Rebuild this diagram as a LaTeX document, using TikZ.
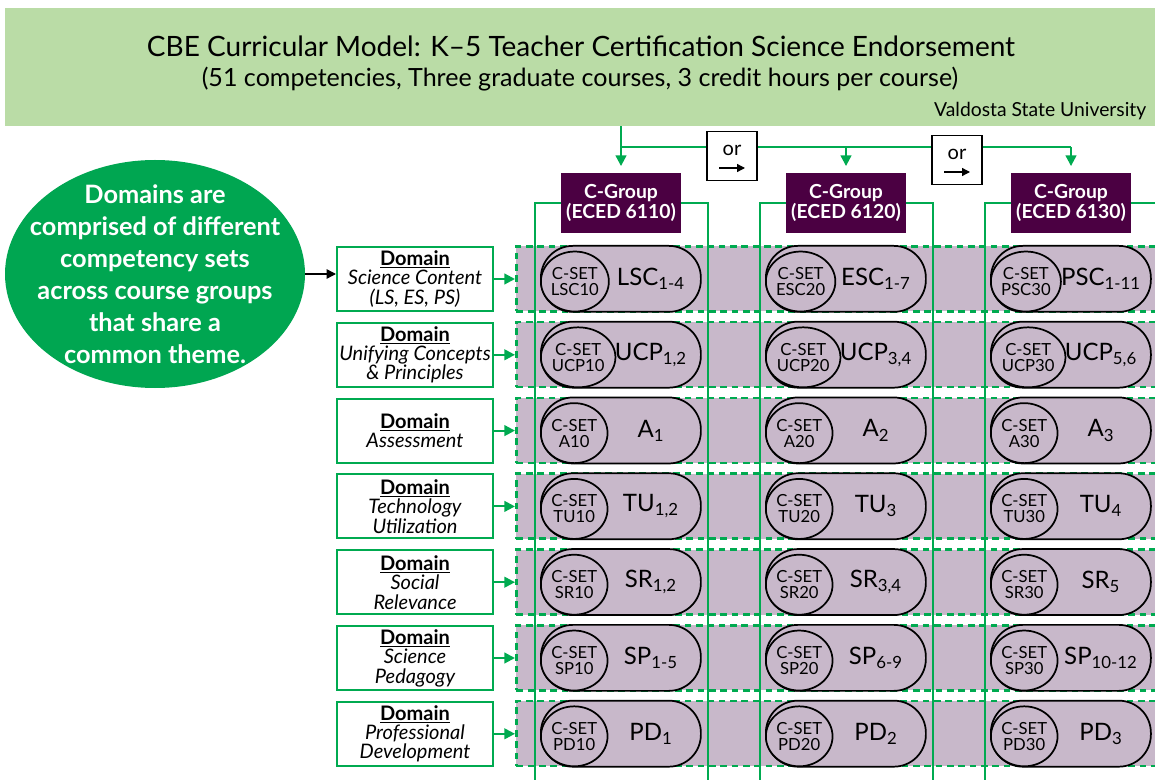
\documentclass[tikz,border=0pt]{standalone}
\usepackage{fontspec}
\setmainfont{Lato}
\usetikzlibrary{arrows.meta,shapes.geometric,positioning}

\definecolor{headgreen}{RGB}{186,220,166}
\definecolor{rulegreen}{RGB}{0,170,80}
\definecolor{blobgreen}{RGB}{0,166,81}
\definecolor{grape}{RGB}{75,0,66}
\definecolor{mauve}{RGB}{200,184,202}

\newcommand{\sub}[1]{\textsubscript{#1}}
\newcommand{\fs}[2]{\fontsize{#1}{#2}\selectfont}

\tikzset{
	gline/.style={draw=rulegreen, line width=1.6pt},
	colline/.style={draw=rulegreen, line width=2.2pt},
	band/.style={draw=rulegreen, dash pattern=on 5pt off 3.5pt, line width=2pt, fill=mauve,
		anchor=north west, minimum width=530pt, minimum height=48.75pt, inner sep=0},
	groupbox/.style={fill=grape, text=white, font=\fs{14.5}{15}\bfseries, align=center,
		minimum width=90pt, minimum height=45pt, inner sep=0},
	orbox/.style={draw=black, line width=0.8pt, fill=white, minimum width=37.5pt, minimum height=36.5pt},
	domainbox/.style={draw=rulegreen, line width=1.5pt, fill=white, anchor=north west,
		minimum width=117pt, minimum height=48pt, inner sep=0, align=center, font=\fs{15}{14.6}\itshape},
	pill/.style={draw=black, line width=1.3pt, fill=mauve, rounded corners=24pt, anchor=north west,
		minimum width=120pt, minimum height=49.5pt},
	setdisc/.style={ellipse, draw=black, line width=1.3pt, fill=mauve, minimum width=50pt,
		minimum height=45pt, inner sep=0, align=center, font=\fs{12.5}{12}, anchor=west},
	pilltext/.style={font=\fs{18}{20}},
}

\begin{document}
\begin{tikzpicture}[x=0.75pt,y=-0.75pt,>={Triangle[length=8pt,width=8pt]}]
	\clip (0,0) rectangle (1155,780);

	% title band
	\node[fill=headgreen, minimum width=862.5pt, minimum height=88.5pt, inner sep=0] (header) at (580,67) {};
	\node[font=\fs{21}{24}] (title) at (581,46) {CBE Curricular Model: K--5 Teacher Certification Science Endorsement};
	\node[font=\fs{18.8}{21}] (subtitle) at (580,79) {(51 competencies, Three graduate courses, 3 credit hours per course)};
	\node[font=\fs{14.5}{16}, anchor=east] (vsu) at (1151,111) {Valdosta State University};

	% note
	\node[ellipse, fill=blobgreen, minimum width=225pt, minimum height=171pt] (blob) at (155,274) {};
	\node[text=white, font=\fs{19}{24}\bfseries, align=center] (blob-txt) at (blob.center)
		{Domains are\\comprised of different\\competency sets\\across course groups\\that share a\\common theme.};

	% domains and competency sets
	\foreach \r/\dom/\sa/\sb/\sc/\la/\lb/\lc in {
		0/{Science Content\\(LS, ES, PS)}/LSC10/ESC20/PSC30/{LSC\sub{1-4}}/{ESC\sub{1-7}}/{PSC\sub{1-11}},
		1/{Unifying Concepts\\\& Principles}/UCP10/UCP20/UCP30/{UCP\sub{1,2}}/{UCP\sub{3,4}}/{UCP\sub{5,6}},
		2/{Assessment}/A10/A20/A30/{A\sub{1}}/{A\sub{2}}/{A\sub{3}},
		3/{Technology\\Utilization}/TU10/TU20/TU30/{TU\sub{1,2}}/{TU\sub{3}}/{TU\sub{4}},
		4/{Social\\Relevance}/SR10/SR20/SR30/{SR\sub{1,2}}/{SR\sub{3,4}}/{SR\sub{5}},
		5/{Science\\Pedagogy}/SP10/SP20/SP30/{SP\sub{1-5}}/{SP\sub{6-9}}/{SP\sub{10-12}},
		6/{Professional\\Development}/PD10/PD20/PD30/{PD\sub{1}}/{PD\sub{2}}/{PD\sub{3}}}{
		\node[band] (band-\r) at (515,245+75.8*\r) {};
		\node[domainbox] (dom-\r) at (336,246+75.8*\r) {\underline{\textbf{\upshape Domain}}\\\dom};
		\draw[gline,->] (dom-\r.east) -- (dom-\r.east -| band-\r.west);
		\foreach \c/\set/\lab in {0/\sa/\la,1/\sb/\lb,2/\sc/\lc}{
			\node[pill] (pill-\r-\c) at (540+225*\c,245+75.8*\r) {};
			\node[setdisc] (set-\r-\c) at ([yshift=-2pt]pill-\r-\c.west) {C-SET\\\set};
			\node[pilltext] (lab-\r-\c) at ([xshift=22.5pt]pill-\r-\c.center) {\lab};
		}
	}
	\draw[->, line width=1pt, >={Triangle[length=7pt,width=7pt]}] (blob.east) -- (blob.east -| dom-0.west);

	% course groups
	\foreach \c/\code in {0/6110,1/6120,2/6130}{
		\node[groupbox] (grp\c) at (621+225*\c,203) {C-Group\\(ECED \code)};
		\draw[colline] (grp\c.west) -| (535+225*\c,790);
		\draw[colline] (grp\c.east) -| (708+225*\c,790);
	}

	\coordinate (hub) at (621,147);
	\draw[gline] (header.south -| hub) -- (hub) -- (hub -| grp2.north);
	\draw[gline,->,shorten >=5pt] (hub) -- (grp0.north);
	\draw[gline,->,shorten >=5pt] (hub -| grp1.north) -- (grp1.north);
	\draw[gline,->,shorten >=5pt] (hub -| grp2.north) -- (grp2.north);

	\foreach \o/\x/\y in {A/732/156,B/957/160}{
		\node[orbox] (or\o) at (\x,\y) {};
		\node[font=\fs{15}{15}] (or\o-txt) at ([yshift=4pt]or\o.center) {or};
		\draw[line width=1pt, -{Triangle[length=6pt,width=6pt]}] ([shift={(-13,12)}]or\o.center) -- ([shift={(13,12)}]or\o.center);
	}
\end{tikzpicture}
\end{document}
